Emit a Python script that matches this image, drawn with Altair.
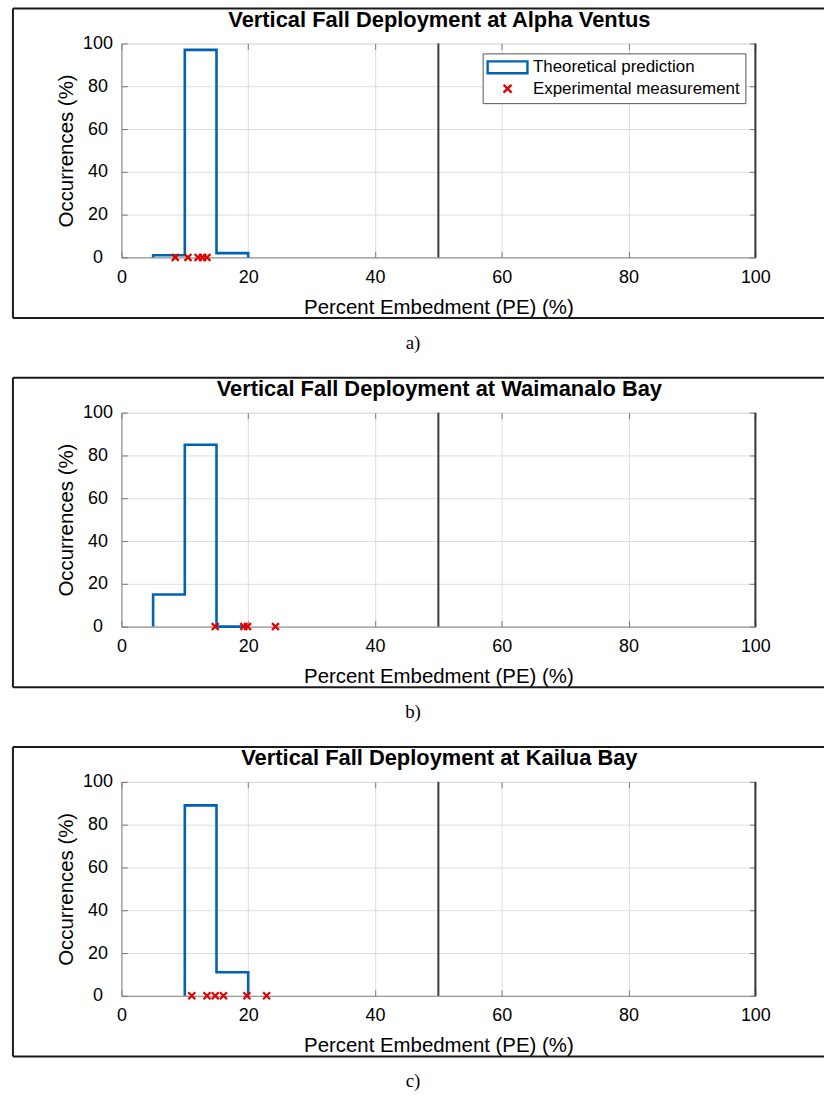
import altair as alt
import pandas as pd

# ---- data -------------------------------------------------------------
PANEL_TITLES = [
    "Vertical Fall Deployment at Alpha Ventus",
    "Vertical Fall Deployment at Waimanalo Bay",
    "Vertical Fall Deployment at Kailua Bay",
]
PANEL_TAGS = ["a)", "b)", "c)"]

# histogram bin edges (PE, %) and bin occurrences (%) of the theoretical prediction
BIN_EDGES = [
    [5, 10, 15, 20],
    [5, 10, 15, 20],
    [10, 15, 20],
]
BIN_PCT = [
    [1, 97, 2],
    [15, 85, 0],
    [89, 11],
]

# measured percent embedment of each experimental deployment (plotted at 0 %)
MEAS_PE = [
    [8.5, 10.5, 12.1, 12.8, 13.5],
    [14.8, 19.3, 19.9, 24.3],
    [11.1, 13.5, 14.8, 16.1, 19.8, 22.9],
]

LIMIT_PE = [50, 100]
X_TICKS = [0, 20, 40, 60, 80, 100]
Y_TICKS = [0, 20, 40, 60, 80, 100]
SERIES = ["Theoretical prediction", "Experimental measurement"]

# ---- styling ------------------------------------------------------------
BLUE = "#0062b0"
RED = "#e00000"
AX_GRAY = "#7a7a7a"
SANS = "Liberation Sans"
SERIF = "Liberation Serif"
W, H = 637, 215

X_PATH = "M-1,-1L1,1M-1,1L1,-1"
RECT_PATH = "M-5,-1.5H5V1.5H-5Z"


def stair_outline(edges, pct):
    """Outline of a stairs-style histogram as an ordered list of vertices."""
    xs, ys = [edges[0]], [0]
    for i, p in enumerate(pct):
        xs += [edges[i], edges[i + 1]]
        ys += [p, p]
    xs.append(edges[-1])
    ys.append(0)
    return pd.DataFrame({"pe": xs, "pct": ys, "i": range(len(xs))})


def tick_axis(orient):
    # short inward ticks drawn along an edge of the plot box
    return alt.Axis(
        orient=orient, values=X_TICKS, offset=-6, tickSize=6, ticks=True,
        labels=False, domain=False, grid=False, title=None,
        tickColor=AX_GRAY, tickWidth=1,
    )


def panel(k):
    xs = alt.Scale(domain=[0, 100], nice=False, zero=False)
    ys = alt.Scale(domain=[0, 100], nice=False)

    main_x = alt.Axis(
        orient="bottom", values=X_TICKS, title="Percent Embedment (PE) (%)",
        grid=True, ticks=False, tickSize=0, labelPadding=11, titlePadding=11,
        labelFontSize=18, titleFontSize=20.5, titleFontWeight="normal",
        labelFlush=False,
    )
    main_y = alt.Axis(
        orient="left", values=Y_TICKS, title="Occurrences (%)",
        grid=True, ticks=False, tickSize=0, labelPadding=24, labelAlign="center",
        titlePadding=6, labelFontSize=18, titleFontSize=20.5,
        titleFontWeight="normal", labelFlush=False,
    )

    hist = stair_outline(BIN_EDGES[k], BIN_PCT[k])
    meas = pd.DataFrame({"pe": MEAS_PE[k], "pct": [0] * len(MEAS_PE[k])})
    limits = pd.DataFrame({"pe": LIMIT_PE})
    leg = pd.DataFrame({"series": SERIES, "pct": [0, 0]})
    one = pd.DataFrame({"k": [0]})

    stairs = alt.Chart(hist).mark_line(
        color=BLUE, strokeWidth=2.6, strokeJoin="miter"
    ).encode(
        x=alt.X("pe:Q", scale=xs, axis=main_x),
        y=alt.Y("pct:Q", scale=ys, axis=main_y),
        order="i:Q",
    )

    points = alt.Chart(meas).mark_point(
        shape=X_PATH, color=RED, size=49, strokeWidth=2.2, filled=False, opacity=1
    ).encode(
        x=alt.X("pe:Q", axis=tick_axis("top")),
        y=alt.Y("pct:Q", axis=tick_axis("right")),
    )

    limit_rules = alt.Chart(limits).mark_rule(color="#3a3a3a", strokeWidth=2).encode(
        x=alt.X("pe:Q", axis=tick_axis("bottom"))
    )

    legend = alt.Legend(
        title=None, orient="top-right", offset=10, padding=5.5,
        strokeColor="#555555", fillColor="white",
        labelFont=SANS, labelFontSize=17, labelColor="black", labelLimit=320,
        symbolSize=64, symbolStrokeWidth=2.4, symbolOffset=11, labelOffset=17,
        rowPadding=0.5,
    )
    legend_keys = alt.Chart(leg).mark_point(opacity=0, filled=False).encode(
        x=alt.value(0),
        y=alt.Y("pct:Q", axis=tick_axis("left")),
        color=alt.Color("series:N", scale=alt.Scale(domain=SERIES, range=[BLUE, RED]), legend=legend),
        shape=alt.Shape("series:N", scale=alt.Scale(domain=SERIES, range=[RECT_PATH, X_PATH]), legend=legend),
    )

    # frame around the panel (open on the right)
    frame_kw = dict(color="#1a1a1a", strokeWidth=2)
    left = alt.Chart(one).mark_rule(**frame_kw).encode(
        x=alt.value(-109), y=alt.value(-35), y2=alt.value(276))
    top = alt.Chart(one).mark_rule(**frame_kw).encode(
        x=alt.value(-109), x2=alt.value(706), y=alt.value(-35))
    bottom = alt.Chart(one).mark_rule(**frame_kw).encode(
        x=alt.value(-109), x2=alt.value(706), y=alt.value(276))

    # panel heading, centred over the plot area
    heading = alt.Chart(one).mark_text(
        font=SANS, fontSize=22, fontWeight="bold", color="black", baseline="middle"
    ).encode(x=alt.value(W / 2 + 1), y=alt.value(-24), text=alt.value(PANEL_TITLES[k]))

    tag = alt.Chart(one).mark_text(font=SERIF, fontSize=19, color="black").encode(
        x=alt.value(293), y=alt.value(301), text=alt.value(PANEL_TAGS[k]))

    return alt.layer(
        stairs, points, limit_rules, legend_keys, left, top, bottom, heading, tag
    ).resolve_axis(x="independent", y="independent").properties(width=W, height=H)


chart = alt.vconcat(*[panel(k) for k in range(3)], spacing=22).properties(
    padding={"left": 11, "top": 4, "right": 0, "bottom": 0}
).configure_view(
    stroke=AX_GRAY, strokeWidth=1.2
).configure_axis(
    labelFont=SANS, titleFont=SANS, labelColor="#262626", titleColor="#262626",
    titleFontWeight="normal", domainColor=AX_GRAY, domainWidth=1.2,
    gridColor="#e3e3e3", gridWidth=1,
).configure(background="white")

chart.save("out.html", embed_options={"renderer": "svg", "actions": False})
